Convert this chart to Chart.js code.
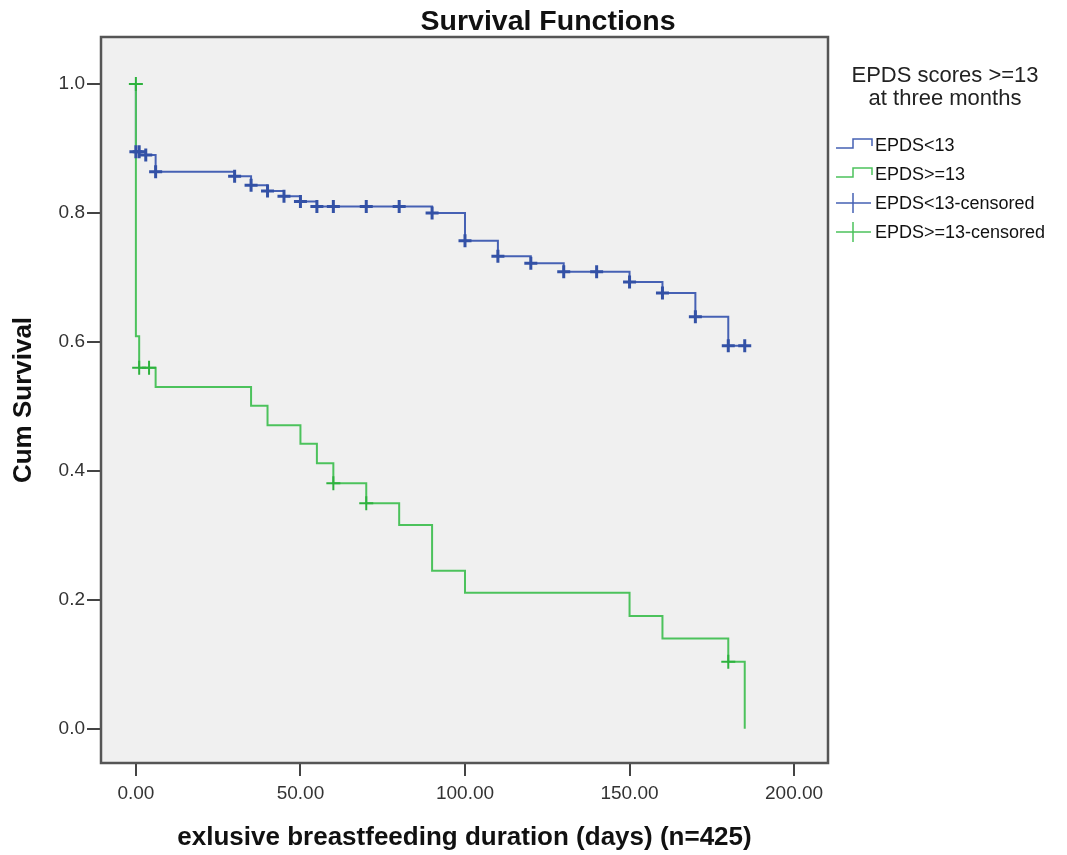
<!DOCTYPE html>
<html>
<head>
<meta charset="utf-8">
<title>Survival Functions</title>
<script src="https://cdn.jsdelivr.net/npm/chart.js@4.4.0/dist/chart.umd.min.js"></script>
<style>
    html, body { margin: 0; padding: 0; background: #ffffff; }
    #wrap { width: 1067px; height: 855px; }
</style>
</head>
<body>
<div id="wrap"><canvas id="survivalChart" width="1067" height="855"></canvas></div>
<script>
const FONT = "'Liberation Sans', Arial, sans-serif";

// Kaplan-Meier steps (time in days, cumulative survival)
const lowTimes = [0, 0, 3, 6, 30, 35, 40, 45, 50, 55, 90, 100, 110, 120, 130, 150, 160, 170, 180, 185];
const lowSurv = [1.0, 0.895, 0.890, 0.864, 0.857, 0.843, 0.834, 0.826, 0.818, 0.810, 0.800, 0.757, 0.733, 0.722, 0.709, 0.693, 0.676, 0.639, 0.594, 0.594];

const highTimes = [0, 0, 1, 6, 35, 40, 50, 55, 60, 70, 80, 90, 100, 150, 160, 180, 185];
const highSurv = [1.0, 0.609, 0.560, 0.530, 0.501, 0.471, 0.442, 0.412, 0.381, 0.350, 0.316, 0.245, 0.211, 0.175, 0.140, 0.104, 0.0];

// censored observations
const lowCensTimes = [0, 1, 3, 6, 30, 35, 40, 45, 50, 55, 60, 70, 80, 90, 100, 110, 120, 130, 140, 150, 160, 170, 180, 185];
const lowCensSurv = [0.895, 0.895, 0.890, 0.864, 0.857, 0.843, 0.834, 0.826, 0.818, 0.810, 0.810, 0.810, 0.810, 0.800, 0.757, 0.733, 0.722, 0.709, 0.709, 0.693, 0.676, 0.639, 0.594, 0.594];

const highCensTimes = [0, 1, 4, 60, 70, 180];
const highCensSurv = [1.0, 0.560, 0.560, 0.381, 0.350, 0.104];

const xTicks = [0, 50, 100, 150, 200];
const yTicks = [0, 0.2, 0.4, 0.6, 0.8, 1.0];

const legendTitle = ['EPDS scores >=13', 'at three months'];
const legendLabels = ['EPDS<13', 'EPDS>=13', 'EPDS<13-censored', 'EPDS>=13-censored'];

const BLUE = '#4661b4';
const BLUE_MARK = '#3351a6';
const GREEN = '#4cc25c';
const GREEN_MARK = '#2eb23e';

function toPoints(xs, ys) {
    return xs.map((x, i) => ({ x: x, y: ys[i] }));
}

// grey plot area, frame, title and SPSS-style legend
const spssFrame = {
    id: 'spssFrame',
    beforeDraw(chart) {
        const { ctx, chartArea: a } = chart;
        ctx.save();
        ctx.fillStyle = '#f0f0f0';
        ctx.fillRect(a.left, a.top, a.right - a.left, a.bottom - a.top);
        ctx.restore();
    },
    afterDraw(chart) {
        const { ctx, chartArea: a } = chart;
        ctx.save();
        ctx.strokeStyle = '#555555';
        ctx.lineWidth = 2.5;
        ctx.strokeRect(a.left, a.top, a.right - a.left, a.bottom - a.top);

        ctx.fillStyle = '#111111';
        ctx.font = 'bold 28.5px ' + FONT;
        ctx.textAlign = 'center';
        ctx.textBaseline = 'alphabetic';
        ctx.fillText('Survival Functions', 548, 30);

        ctx.fillStyle = '#222222';
        ctx.font = '22px ' + FONT;
        ctx.fillText(legendTitle[0], 945, 82);
        ctx.fillText(legendTitle[1], 945, 105);

        const colors = [BLUE, GREEN, BLUE, GREEN];
        ctx.font = '18px ' + FONT;
        ctx.textAlign = 'left';
        ctx.textBaseline = 'middle';
        legendLabels.forEach((label, i) => {
            const y = 145 + i * 29;
            ctx.strokeStyle = colors[i];
            ctx.lineWidth = 1.5;
            ctx.beginPath();
            if (i < 2) {
                ctx.moveTo(836, y + 3);
                ctx.lineTo(853, y + 3);
                ctx.lineTo(853, y - 6);
                ctx.lineTo(872, y - 6);
                ctx.lineTo(872, y + 1);
            } else {
                ctx.moveTo(836, y);
                ctx.lineTo(871, y);
                ctx.moveTo(853, y - 10);
                ctx.lineTo(853, y + 10);
            }
            ctx.stroke();
            ctx.fillStyle = '#111111';
            ctx.fillText(label, 875, y + 1);
        });
        ctx.restore();
    }
};

function drawSurvivalChart() {
    const ctx = document.getElementById('survivalChart').getContext('2d');

    new Chart(ctx, {
        type: 'line',
        data: {
            datasets: [
                {
                    label: 'EPDS<13',
                    data: toPoints(lowTimes, lowSurv),
                    borderColor: BLUE,
                    borderWidth: 2,
                    stepped: true,
                    pointRadius: 0,
                    fill: false,
                    order: 4
                },
                {
                    label: 'EPDS>=13',
                    data: toPoints(highTimes, highSurv),
                    borderColor: GREEN,
                    borderWidth: 2,
                    stepped: true,
                    pointRadius: 0,
                    fill: false,
                    order: 3
                },
                {
                    label: 'EPDS<13-censored',
                    data: toPoints(lowCensTimes, lowCensSurv),
                    showLine: false,
                    pointStyle: 'cross',
                    pointRadius: 6.5,
                    pointBorderWidth: 3,
                    pointBorderColor: BLUE_MARK,
                    borderColor: BLUE_MARK,
                    order: 2
                },
                {
                    label: 'EPDS>=13-censored',
                    data: toPoints(highCensTimes, highCensSurv),
                    showLine: false,
                    pointStyle: 'cross',
                    pointRadius: 7,
                    pointBorderWidth: 2,
                    pointBorderColor: GREEN_MARK,
                    borderColor: GREEN_MARK,
                    order: 1
                }
            ]
        },
        options: {
            responsive: false,
            animation: false,
            layout: { padding: { top: 37, right: 239, left: 0, bottom: 0 } },
            plugins: {
                legend: { display: false },
                title: { display: false },
                tooltip: { enabled: false }
            },
            scales: {
                x: {
                    type: 'linear',
                    min: -10.6,
                    max: 210.3,
                    afterFit: (scale) => { scale.height = 92; },
                    afterBuildTicks: (scale) => { scale.ticks = xTicks.map(v => ({ value: v })); },
                    border: { display: false },
                    grid: { drawOnChartArea: false, drawTicks: true, tickLength: 13, color: '#444444', lineWidth: 2 },
                    ticks: {
                        padding: 6,
                        color: '#333333',
                        font: { family: FONT, size: 19 },
                        maxRotation: 0,
                        callback: (value) => Number(value).toFixed(2)
                    },
                    title: {
                        display: true,
                        text: 'exlusive breastfeeding duration (days) (n=425)',
                        color: '#111111',
                        font: { family: FONT, size: 26, weight: 'bold' },
                        padding: { top: 0, bottom: 2 }
                    }
                },
                y: {
                    type: 'linear',
                    min: -0.053,
                    max: 1.073,
                    afterFit: (scale) => { scale.width = 101; },
                    afterBuildTicks: (scale) => { scale.ticks = yTicks.map(v => ({ value: v })); },
                    border: { display: false },
                    grid: { drawOnChartArea: false, drawTicks: true, tickLength: 14, color: '#444444', lineWidth: 2 },
                    ticks: {
                        padding: 2,
                        color: '#333333',
                        font: { family: FONT, size: 19 },
                        callback: (value) => Number(value).toFixed(1)
                    },
                    title: {
                        display: true,
                        text: 'Cum Survival',
                        color: '#111111',
                        font: { family: FONT, size: 26, weight: 'bold' },
                        padding: { top: 8, bottom: 0 }
                    }
                }
            }
        },
        plugins: [spssFrame]
    });
}

drawSurvivalChart();
</script>
</body>
</html>
